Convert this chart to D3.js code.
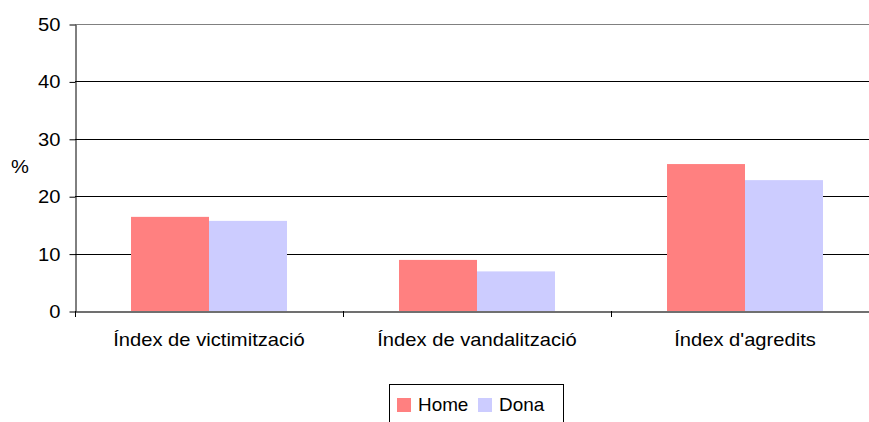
<!DOCTYPE html>
<html>
<head>
<meta charset="utf-8">
<script src="https://cdn.jsdelivr.net/npm/d3@7"></script>
<style>
  body { margin: 0; background: #fff; }
  text { font-family: "Liberation Sans", Arial, sans-serif; fill: #000; }
</style>
</head>
<body>
<svg width="869" height="422"></svg>
<script>
// data
const categories = ["Índex de victimització", "Índex de vandalització", "Índex d'agredits"];
const seriesNames = ["Home", "Dona"];
const homeValues = [16.4, 8.9, 25.6];
const donaValues = [15.7, 6.9, 22.8];
const yTicks = [0, 10, 20, 30, 40, 50];
const colors = ["#ff8080", "#ccccff"];

const svg = d3.select("svg");
const plotLeft = 75, plotRight = 879, plotTop = 24, plotBottom = 311;
const stretch = 1.12; // text in the picture is a bit wider than Arial
const fontSize = "18px";

const x0 = d3.scaleBand().domain(categories).range([plotLeft, plotRight]);
const gap = x0.bandwidth() * 0.209;
const x1 = d3.scaleBand().domain(seriesNames).range([gap, x0.bandwidth() - gap]);
const y = d3.scaleLinear().domain([0, 50]).range([plotBottom, plotTop]);

// gridlines
svg.append("g")
  .selectAll("line")
  .data(yTicks.filter(d => d > 0))
  .enter()
  .append("line")
  .attr("x1", plotLeft).attr("x2", plotRight)
  .attr("y1", d => Math.round(y(d)) + 0.5)
  .attr("y2", d => Math.round(y(d)) + 0.5)
  .attr("stroke", d => d === 50 ? "#808080" : "#000")
  .attr("stroke-width", 1);

// bars
const rows = categories.map((c, i) => ({cat: c, vals: [homeValues[i], donaValues[i]]}));
svg.append("g")
  .selectAll("g")
  .data(rows)
  .enter()
  .append("g")
  .attr("transform", d => `translate(${x0(d.cat)},0)`)
  .selectAll("rect")
  .data(d => d.vals.map((v, j) => ({name: seriesNames[j], v: v, j: j})))
  .enter()
  .append("rect")
  .attr("x", d => x1(d.name))
  .attr("width", x1.bandwidth())
  .attr("y", d => y(d.v))
  .attr("height", d => plotBottom - y(d.v))
  .attr("fill", d => colors[d.j]);

// y axis
const yAxis = svg.append("g")
  .attr("transform", `translate(${plotLeft + 0.5},0.5)`)
  .call(d3.axisLeft(y).tickValues(yTicks).tickSize(6).tickSizeOuter(0));
yAxis.select(".domain").attr("stroke", "#000");
yAxis.selectAll("line").attr("stroke", "#000");
yAxis.selectAll("text")
  .attr("x", null).attr("dy", null)
  .attr("transform", `translate(-15,6) scale(${stretch},1)`)
  .style("font-size", fontSize)
  .style("font-family", "'Liberation Sans', Arial, sans-serif")
  .attr("fill", "#000");

// x axis
const xAxis = svg.append("g")
  .attr("transform", `translate(0,${plotBottom + 0.5})`)
  .call(d3.axisBottom(x0).tickSize(0).tickFormat(""));
xAxis.select(".domain").attr("stroke", "#404040").attr("stroke-width", 1.5);
svg.append("g")
  .selectAll("line")
  .data(categories)
  .enter()
  .append("line")
  .attr("x1", d => Math.round(x0(d)) + 0.5)
  .attr("x2", d => Math.round(x0(d)) + 0.5)
  .attr("y1", plotBottom).attr("y2", plotBottom + 6)
  .attr("stroke", "#000");

svg.append("g")
  .selectAll("text")
  .data(categories)
  .enter()
  .append("text")
  .attr("transform", d => `translate(${x0(d) + x0.bandwidth() / 2},346) scale(${stretch},1)`)
  .attr("text-anchor", "middle")
  .style("font-size", fontSize)
  .text(d => d);

// y label
svg.append("text")
  .attr("transform", `translate(20,173) scale(${stretch},1)`)
  .attr("text-anchor", "middle")
  .style("font-size", fontSize)
  .text("%");

// legend
const legend = svg.append("g");
legend.append("rect")
  .attr("x", 389.5).attr("y", 384.5)
  .attr("width", 174).attr("height", 50)
  .attr("fill", "#fff").attr("stroke", "#000");
const legendX = [397, 478];
seriesNames.forEach((name, i) => {
  legend.append("rect")
    .attr("x", legendX[i]).attr("y", 398)
    .attr("width", 14).attr("height", 14)
    .attr("fill", colors[i]);
  legend.append("text")
    .attr("transform", `translate(${legendX[i] + 21},411) scale(1.05,1)`)
    .style("font-size", fontSize)
    .text(name);
});
</script>
</body>
</html>
